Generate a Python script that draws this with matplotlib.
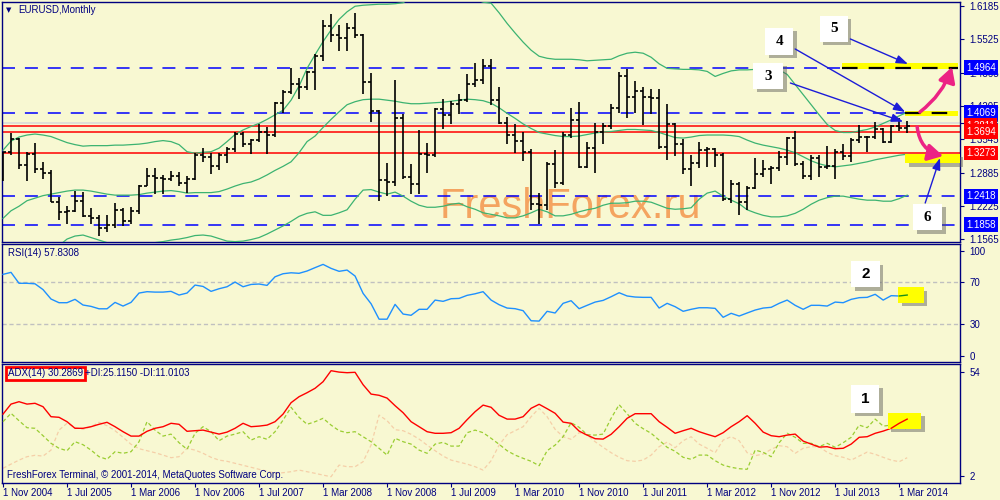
import matplotlib
matplotlib.use("Agg")
import matplotlib.pyplot as plt
import matplotlib.patheffects as pe
from matplotlib.patches import Rectangle
from matplotlib.transforms import blended_transform_factory

plt.rcParams['font.family'] = ['Liberation Sans', 'DejaVu Sans']

BG = '#f8f8d2'
NAVY = '#000080'

# EURUSD monthly bars, Nov 2004 .. Apr 2014
opens = [1.2760, 1.3290, 1.3554, 1.3036, 1.3254, 1.2964, 1.2874, 1.2307, 1.2098, 1.2125,
         1.2331, 1.2024, 1.1991, 1.1790, 1.1844, 1.2154, 1.1928, 1.2120, 1.2622, 1.2821,
         1.2789, 1.2768, 1.2811, 1.2677, 1.2759, 1.3238, 1.3197, 1.3017, 1.3232, 1.3354,
         1.3651, 1.3449, 1.3529, 1.3681, 1.3637, 1.4266, 1.4488, 1.4641, 1.4589, 1.4869,
         1.5185, 1.5785, 1.5604, 1.5553, 1.5752, 1.5614, 1.4672, 1.4099, 1.2733, 1.2699,
         1.3971, 1.2800, 1.2669, 1.3257, 1.3236, 1.4151, 1.4033, 1.4254, 1.4331, 1.4641,
         1.4714, 1.5001, 1.4320, 1.3869, 1.3630, 1.3510, 1.3297, 1.2273, 1.2235, 1.3049,
         1.2681, 1.3630, 1.3920, 1.2996, 1.3380, 1.3691, 1.3801, 1.4164, 1.4807, 1.4391,
         1.4496, 1.4390, 1.4370, 1.3389, 1.3853, 1.3446, 1.2961, 1.3082, 1.3326, 1.3344,
         1.3236, 1.2370, 1.2666, 1.2302, 1.2578, 1.2856, 1.2956, 1.2986, 1.3197, 1.3578,
         1.3058, 1.2819, 1.3167, 1.2997, 1.3010, 1.3300, 1.3222, 1.3527, 1.3585, 1.3593,
         1.3743, 1.3486, 1.3801, 1.3768]
highs = [1.3297, 1.3666, 1.3581, 1.3290, 1.3478, 1.3096, 1.2935, 1.2400, 1.2230, 1.2512,
         1.2509, 1.2180, 1.2043, 1.2038, 1.2286, 1.2182, 1.2196, 1.2639, 1.2979, 1.2975,
         1.2843, 1.2913, 1.2899, 1.2824, 1.3283, 1.3367, 1.3283, 1.3273, 1.3387, 1.3681,
         1.3683, 1.3550, 1.3852, 1.3798, 1.4283, 1.4527, 1.4967, 1.4759, 1.4907, 1.5234,
         1.5903, 1.6019, 1.5818, 1.5844, 1.6038, 1.5623, 1.4867, 1.4123, 1.3081, 1.4718,
         1.4053, 1.3048, 1.3738, 1.3471, 1.4164, 1.4337, 1.4305, 1.4445, 1.4843, 1.5062,
         1.5143, 1.5135, 1.4579, 1.3988, 1.3839, 1.3692, 1.3361, 1.2487, 1.3105, 1.3333,
         1.3687, 1.4157, 1.4282, 1.3497, 1.3860, 1.3861, 1.4249, 1.4882, 1.4940, 1.4700,
         1.4578, 1.4549, 1.4548, 1.4247, 1.3871, 1.3549, 1.3233, 1.3486, 1.3386, 1.3383,
         1.3283, 1.2747, 1.2693, 1.2624, 1.3172, 1.3140, 1.3010, 1.3308, 1.3597, 1.3711,
         1.3115, 1.3243, 1.3243, 1.3416, 1.3346, 1.3452, 1.3569, 1.3832, 1.3620, 1.3893,
         1.3775, 1.3824, 1.3967, 1.3905]
lows = [1.2711, 1.3225, 1.2955, 1.2727, 1.2872, 1.2769, 1.2303, 1.1953, 1.1868, 1.2100,
        1.2003, 1.1871, 1.1639, 1.1707, 1.1798, 1.1826, 1.1873, 1.2066, 1.2617, 1.2456,
        1.2457, 1.2713, 1.2625, 1.2484, 1.2735, 1.3104, 1.2866, 1.2931, 1.3069, 1.3303,
        1.3386, 1.3256, 1.3487, 1.3261, 1.3596, 1.4062, 1.4437, 1.4350, 1.4524, 1.4516,
        1.5093, 1.5474, 1.5284, 1.5301, 1.5558, 1.4433, 1.3880, 1.2329, 1.2421, 1.2624,
        1.2753, 1.2455, 1.2457, 1.2884, 1.3188, 1.3747, 1.3845, 1.4047, 1.4277, 1.4582,
        1.4646, 1.4218, 1.3858, 1.3444, 1.3265, 1.3114, 1.2143, 1.1875, 1.2151, 1.2588,
        1.2646, 1.3575, 1.2970, 1.2969, 1.2871, 1.3444, 1.3749, 1.4058, 1.3967, 1.4071,
        1.3838, 1.4054, 1.3363, 1.3145, 1.3211, 1.2858, 1.2624, 1.2974, 1.3003, 1.3001,
        1.2332, 1.2286, 1.2041, 1.2148, 1.2562, 1.2803, 1.2661, 1.2923, 1.3038, 1.3019,
        1.2750, 1.2746, 1.2795, 1.2951, 1.2755, 1.3131, 1.3104, 1.3480, 1.3296, 1.3546,
        1.3478, 1.3476, 1.3705, 1.3672]
closes = [1.3290, 1.3554, 1.3036, 1.3254, 1.2964, 1.2874, 1.2307, 1.2098, 1.2125, 1.2331,
          1.2024, 1.1991, 1.1790, 1.1844, 1.2154, 1.1928, 1.2120, 1.2622, 1.2821, 1.2789,
          1.2768, 1.2811, 1.2677, 1.2759, 1.3238, 1.3197, 1.3017, 1.3232, 1.3354, 1.3651,
          1.3449, 1.3529, 1.3681, 1.3637, 1.4266, 1.4488, 1.4641, 1.4589, 1.4869, 1.5185,
          1.5785, 1.5604, 1.5553, 1.5752, 1.5614, 1.4672, 1.4099, 1.2733, 1.2699, 1.3971,
          1.2800, 1.2669, 1.3257, 1.3236, 1.4151, 1.4033, 1.4254, 1.4331, 1.4641, 1.4714,
          1.5001, 1.4320, 1.3869, 1.3630, 1.3510, 1.3297, 1.2273, 1.2235, 1.3049, 1.2681,
          1.3630, 1.3920, 1.2996, 1.3380, 1.3691, 1.3801, 1.4164, 1.4807, 1.4391, 1.4496,
          1.4390, 1.4370, 1.3389, 1.3853, 1.3446, 1.2961, 1.3082, 1.3326, 1.3344, 1.3236,
          1.2370, 1.2666, 1.2302, 1.2578, 1.2856, 1.2956, 1.2986, 1.3197, 1.3578, 1.3058,
          1.2819, 1.3167, 1.2997, 1.3010, 1.3300, 1.3222, 1.3527, 1.3585, 1.3593, 1.3743,
          1.3486, 1.3801, 1.3768, 1.3811]

# Bollinger bands
bb_upper = [1.333, 1.351, 1.359, 1.363, 1.365, 1.363, 1.360, 1.354, 1.348, 1.344,
            1.341, 1.342, 1.342, 1.342, 1.343, 1.343, 1.344, 1.345, 1.347, 1.350,
            1.352, 1.350, 1.344, 1.330, 1.327, 1.329, 1.330, 1.337, 1.350, 1.364,
            1.373, 1.380, 1.386, 1.394, 1.403, 1.412, 1.432, 1.460, 1.495, 1.522,
            1.548, 1.571, 1.592, 1.607, 1.618, 1.620, 1.621, 1.622, 1.622, 1.623,
            1.625, 1.635, 1.645, 1.650, 1.655, 1.655, 1.650, 1.645, 1.640, 1.632,
            1.626, 1.624, 1.605, 1.584, 1.565, 1.547, 1.531, 1.519, 1.515, 1.513,
            1.513, 1.513, 1.512, 1.510, 1.511, 1.512, 1.513, 1.520, 1.525, 1.527,
            1.525, 1.517, 1.504, 1.495, 1.494, 1.493, 1.493, 1.492, 1.489, 1.479,
            1.485, 1.490, 1.492, 1.492, 1.493, 1.493, 1.493, 1.492, 1.483, 1.463,
            1.443, 1.423, 1.403, 1.384, 1.372, 1.368, 1.368, 1.371, 1.374, 1.379,
            1.386, 1.393, 1.401, 1.408]
bb_middle = [1.198, 1.213, 1.222, 1.233, 1.238, 1.243, 1.246, 1.249, 1.252, 1.254,
             1.254, 1.252, 1.249, 1.246, 1.244, 1.244, 1.244, 1.245, 1.248, 1.250,
             1.252, 1.253, 1.251, 1.248, 1.249, 1.249, 1.249, 1.251, 1.256, 1.262,
             1.267, 1.270, 1.276, 1.284, 1.293, 1.301, 1.310, 1.328, 1.350, 1.361,
             1.378, 1.394, 1.409, 1.423, 1.429, 1.433, 1.434, 1.434, 1.432, 1.430,
             1.427, 1.425, 1.425, 1.426, 1.427, 1.428, 1.430, 1.432, 1.434, 1.433,
             1.431, 1.426, 1.417, 1.406, 1.396, 1.385, 1.376, 1.368, 1.365, 1.362,
             1.360, 1.360, 1.361, 1.364, 1.367, 1.369, 1.370, 1.372, 1.374, 1.374,
             1.373, 1.372, 1.368, 1.363, 1.358, 1.357, 1.359, 1.362, 1.363, 1.363,
             1.363, 1.362, 1.360, 1.353, 1.347, 1.343, 1.340, 1.337, 1.333, 1.328,
             1.320, 1.312, 1.306, 1.302, 1.300, 1.302, 1.304, 1.307, 1.310, 1.314,
             1.317, 1.320, 1.323, 1.325]
bb_lower = [1.063, 1.075, 1.085, 1.103, 1.111, 1.123, 1.132, 1.144, 1.157, 1.163,
            1.165, 1.160, 1.155, 1.150, 1.146, 1.145, 1.144, 1.145, 1.149, 1.150,
            1.152, 1.155, 1.157, 1.160, 1.164, 1.165, 1.163, 1.158, 1.153, 1.152,
            1.153, 1.156, 1.160, 1.167, 1.175, 1.183, 1.192, 1.202, 1.208, 1.211,
            1.204, 1.204, 1.209, 1.215, 1.236, 1.254, 1.255, 1.250, 1.246, 1.250,
            1.242, 1.232, 1.224, 1.220, 1.220, 1.222, 1.226, 1.228, 1.221, 1.216,
            1.209, 1.206, 1.203, 1.199, 1.199, 1.203, 1.209, 1.216, 1.211, 1.203,
            1.203, 1.206, 1.211, 1.215, 1.218, 1.224, 1.228, 1.228, 1.229, 1.232,
            1.232, 1.230, 1.224, 1.218, 1.216, 1.217, 1.219, 1.236, 1.248, 1.252,
            1.242, 1.234, 1.227, 1.215, 1.209, 1.204, 1.201, 1.201, 1.203, 1.208,
            1.216, 1.226, 1.234, 1.239, 1.242, 1.242, 1.239, 1.236, 1.234, 1.234,
            1.232, 1.232, 1.237, 1.244]

rsi = [77.5, 79.4, 69, 69, 68.5, 63, 54, 50.5, 50.5, 53.7,
       48.3, 47, 44.7, 44.7, 50.8, 47.3, 50.8, 59.7, 61, 60.6,
       60.6, 61.3, 57.8, 59.7, 67.3, 66, 61.3, 63.8, 65.7, 70.2,
       65.7, 67.9, 68.3, 67, 75.2, 78.1, 79, 78.5, 80.7, 83.9,
       87, 83.2, 80.4, 81.6, 75.9, 59.4, 49.5, 34.8, 34.8, 48.9,
       39.7, 38.5, 44.2, 44.2, 53, 51.8, 54.3, 54.6, 57.5, 59,
       61, 53, 48.6, 45.4, 44.8, 42.9, 33.3, 33, 42.3, 40.7,
       49.9, 52.4, 44.8, 48, 51.1, 52.7, 56.2, 60, 56.9, 55.9,
       55.6, 55.6, 45.4, 49.9, 46.7, 42.3, 44.2, 45.7, 45.7, 45.1,
       36.6, 40.4, 37.8, 40.7, 43.5, 45.4, 46.1, 49.9, 53, 48,
       44.2, 48, 48, 47.3, 51.1, 50.5, 53.7, 55.3, 55.6, 58.5,
       53, 57.2, 56.9, 57.8]

adx = [32.8, 37.8, 39, 37.8, 38.2, 36.5, 31.5, 31.2, 29, 25.7,
       25.7, 26.5, 27.7, 28.7, 26.5, 24, 21.8, 21.8, 24.2, 25.7,
       26.5, 28.2, 27.7, 24.2, 24.5, 24.8, 23.8, 22.8, 23.8, 25.7,
       28.2, 26.5, 26.8, 27.3, 29, 32.8, 38.5, 41.5, 43.5, 45.7,
       49, 54.5, 53.8, 53.5, 53.7, 47.5, 42.8, 42.2, 40.8, 37,
       33.5, 29, 26.5, 24, 23.2, 23.2, 23.5, 25.7, 30, 34,
       37.3, 36.2, 32.2, 30.3, 30.3, 31.5, 35.7, 37.7, 35.5, 33.2,
       28.8, 28.2, 24.3, 22.3, 20.5, 20.3, 22.7, 26.5, 30.7, 33,
       33, 33, 29, 26.2, 23.2, 24.5, 25.7, 24, 22.7, 21.5,
       23.5, 26.5, 29, 32, 28.2, 23.8, 22, 21.5, 22.3, 22.8,
       19.3, 17.8, 16.3, 16.5, 15.5, 15.7, 17.8, 21.2, 21.5, 23.2,
       24.3, 25.7, 28.2, 30.3]
plus_di = [29, 33.2, 29.5, 26, 25.7, 22, 18.2, 15.7, 14.5, 19,
           17.5, 14.8, 11.5, 10.2, 14, 13.2, 14, 19, 29, 24.8,
           21.8, 22.8, 18.5, 15.2, 23.2, 26.5, 24, 19.5, 21.8, 22.8,
           24, 19.8, 21.5, 20.2, 24, 29.8, 36.2, 31.2, 27.7, 29,
           30.7, 27.3, 24.5, 23.5, 24, 21.5, 19, 15.7, 12.3, 20.7,
           19, 17.8, 14.8, 13.2, 17.8, 18.7, 16.8, 16.8, 23.5, 24.8,
           23.5, 20.7, 17.7, 14.5, 12.3, 10.7, 9.2, 7, 14.5, 17.3,
           21.5, 28.5, 26.2, 22.5, 22.3, 22.8, 30.7, 37.5, 33, 28.2,
           25.5, 23.2, 19.8, 16.2, 14.2, 11.2, 10.2, 12.3, 12.3, 9.5,
           7.3, 6.2, 5.5, 5.2, 14.8, 13.7, 11.5, 18.5, 23.2, 21.2,
           18.2, 18.2, 16.5, 18.2, 16.2, 18.5, 21.2, 27.3, 26, 30.3,
           26.8, 27.3, 27.2, 25.1]
minus_di = [5.7, 7.8, 9.8, 11.5, 12.2, 11.8, 14.8, 24.8, 28.2, 26.2,
            25.2, 26.5, 28.7, 27, 24.5, 21.2, 17.7, 15.5, 14.5, 13.5,
            12.3, 11, 11.5, 15.7, 14.8, 13.2, 11.2, 9.8, 9.2, 8.2,
            7.2, 6.2, 5.2, 4.3, 3.2, 3.5, 4, 4.8, 4, 3.2,
            2.3, 1.5, 7.3, 6.5, 6.5, 9, 17.3, 32.3, 29.5, 25,
            24.5, 22.7, 20.3, 17.3, 14.5, 11.8, 9.8, 8.8, 7.8, 6.5,
            4.8, 9.5, 17.3, 22.5, 24.5, 26.5, 31.5, 35.7, 31.5, 25.2,
            21.5, 20.2, 23.5, 22.3, 19, 16.2, 13.5, 11.2, 9.5, 9.2,
            9.8, 12.3, 16.5, 18.8, 16, 19.5, 21.5, 17.8, 15.7, 13.5,
            19.8, 21.5, 19.5, 13.5, 12, 12.8, 15.2, 17, 16.5, 13.2,
            15.7, 16.5, 16.5, 13.7, 12, 11.2, 9.8, 11.8, 13.8, 12.7,
            11.2, 9.8, 9, 11]

date_labels = ['1 Nov 2004', '1 Jul 2005', '1 Mar 2006', '1 Nov 2006', '1 Jul 2007',
               '1 Mar 2008', '1 Nov 2008', '1 Jul 2009', '1 Mar 2010', '1 Nov 2010',
               '1 Jul 2011', '1 Mar 2012', '1 Nov 2012', '1 Jul 2013', '1 Mar 2014']
price_ticks = [1.6185, 1.5525, 1.4865, 1.4205, 1.3545, 1.2885, 1.2225, 1.1565]
blue_levels = [1.4964, 1.4069, 1.2418, 1.1858]
red_levels = [1.3811, 1.3694, 1.3273]
bid_level = 1.3876

x = list(range(len(closes)))
date_pos = list(range(0, len(closes), 8))

fig = plt.figure(figsize=(10, 5), dpi=100)
fig.patch.set_facecolor(BG)
ax = fig.add_axes([0.002, 0.517, 0.958, 0.479])
ax_rsi = fig.add_axes([0.002, 0.2766, 0.958, 0.2364])
ax_adx = fig.add_axes([0.002, 0.035, 0.958, 0.237])

for a in (ax, ax_rsi, ax_adx):
    a.set_facecolor(BG)
    a.set_xlim(-0.125, 119.6)
    for s in a.spines.values():
        s.set_color(NAVY)
        s.set_linewidth(1)
    a.yaxis.tick_right()
    a.tick_params(axis='y', direction='out', length=3, color=NAVY, labelcolor=NAVY,
                  labelsize=7, pad=4)
ax.set_xticks([])
ax_rsi.set_xticks([])

# ---- price panel ----
ax.set_ylim(1.1522, 1.6264)
ax.set_yticks(price_ticks + [bid_level])
ax.set_yticklabels([f'{v:.4f}' for v in price_ticks] + ['1.3883'])

ax.text(70.9, 1.2205, 'FreshForex.ru', color='#f4a460', fontsize=30, ha='center',
        va='center', zorder=1)

for lv in blue_levels:
    ax.axhline(lv, color='#0000ff', lw=1.1, ls=(0, (8.5, 6.5)), zorder=2)
for lv in red_levels:
    ax.axhline(lv, color='#ff0000', lw=1.1, zorder=2)
ax.axhline(bid_level, color='#d8d8d8', lw=1.1, zorder=2)

ax.plot(x, bb_upper, color='#3cb371', lw=0.9, zorder=3)
ax.plot(x, bb_middle, color='#3cb371', lw=0.9, zorder=3)
ax.plot(x, bb_lower, color='#3cb371', lw=0.9, zorder=3)

ax.vlines(x, lows, highs, color='black', lw=1.2, zorder=4)
ax.hlines(opens, [i - 0.4 for i in x], x, color='black', lw=1.2, zorder=4)
ax.hlines(closes, x, [i + 0.4 for i in x], color='black', lw=1.2, zorder=4)

ax.text(0.004, 0.967, '▼', transform=ax.transAxes, color=NAVY, fontsize=5,
        va='center', family='DejaVu Sans')
ax.text(0.017, 0.967, 'EURUSD,Monthly', transform=ax.transAxes, color=NAVY,
        fontsize=7, va='center')

shadow = [pe.SimplePatchShadow(offset=(2.5, -2.5), shadow_rgbFace='#555555', alpha=0.45),
          pe.Normal()]


def box(a, x0, x1, y0, y1, fc, z=6, shade=True):
    r = Rectangle((x0, y0), x1 - x0, y1 - y0, facecolor=fc, edgecolor='none',
                  zorder=z, clip_on=False)
    if shade:
        r.set_path_effects(shadow)
    a.add_patch(r)


def num_box(a, x0, x1, y0, y1, label, serif=True):
    box(a, x0, x1, y0, y1, 'white', z=7)
    a.text((x0 + x1) / 2, (y0 + y1) / 2, label, ha='center', va='center',
           fontsize=11, fontweight='bold', zorder=8,
           family='Liberation Serif' if serif else 'Liberation Sans')


# yellow highlights on the levels
box(ax, 104.9, 119.4, 1.4932, 1.5062, '#ffff00', z=5, shade=False)
box(ax, 112.75, 119.4, 1.4007, 1.4112, '#ffff00', z=5, shade=False)
box(ax, 112.75, 119.6, 1.3070, 1.3254, '#ffff00', z=5)
ax.hlines(1.4964, 104.9, 119.4, color='black', lw=1.6, ls=(0, (7, 5)), zorder=6)
ax.hlines(1.4069, 112.75, 119.4, color='black', lw=1.6, ls=(0, (7, 5)), zorder=6)

num_box(ax, 102.1, 105.6, 1.5472, 1.5987, '5')
num_box(ax, 95.25, 98.75, 1.5215, 1.5749, '4')
num_box(ax, 93.75, 97.5, 1.4541, 1.5056, '3')
num_box(ax, 113.75, 117.4, 1.1749, 1.2264, '6')

blue_arrow = dict(arrowstyle='-|>,head_length=0.7,head_width=0.25', color='#1c1cd8',
                  lw=1, shrinkA=0, shrinkB=0)
ax.annotate('', xy=(113.1, 1.5037), xytext=(105.9, 1.5532), arrowprops=blue_arrow, zorder=9)
ax.annotate('', xy=(112.75, 1.4086), xytext=(99.0, 1.5334), arrowprops=blue_arrow, zorder=9)
ax.annotate('', xy=(112.5, 1.3894), xytext=(98.4, 1.4660), arrowprops=blue_arrow, zorder=9)
ax.annotate('', xy=(117.1, 1.3175), xytext=(115.25, 1.2284), arrowprops=blue_arrow, zorder=9)

pink = '#ec2384'
ax.annotate('', xy=(118.6, 1.4977), xytext=(114.6, 1.4086),
            arrowprops=dict(arrowstyle='-|>,head_length=0.9,head_width=0.5', color=pink,
                            lw=2.5, connectionstyle='arc3,rad=0.15', shrinkA=0, shrinkB=0),
            zorder=9, annotation_clip=False)
ax.annotate('', xy=(117.5, 1.3215), xytext=(114.25, 1.3789),
            arrowprops=dict(arrowstyle='-|>,head_length=0.9,head_width=0.5', color=pink,
                            lw=2.5, connectionstyle='arc3,rad=0.35', shrinkA=0, shrinkB=0),
            zorder=9, annotation_clip=False)

# price labels on the right axis
tr = blended_transform_factory(ax.transAxes, ax.transData)
for lv in blue_levels + red_levels:
    fc = '#0000ff' if lv in blue_levels else '#ff0000'
    ax.text(1.0065, lv, f'{lv:.4f}', transform=tr, color='white', fontsize=7,
            va='center', ha='left', clip_on=False, zorder=10,
            bbox=dict(boxstyle='square,pad=0.25', fc=fc, ec='none'))

# ---- RSI panel ----
ax_rsi.set_ylim(-5.7, 106.9)
ax_rsi.set_yticks([100, 70, 30, 0])
ax_rsi.axhline(70, color='#c0c0c0', lw=1, ls=(0, (3, 2)))
ax_rsi.axhline(30, color='#c0c0c0', lw=1, ls=(0, (3, 2)))
ax_rsi.plot(x, rsi, color='#1e90ff', lw=1, zorder=3)
box(ax_rsi, 111.9, 115.1, 50.2, 65.4, '#ffff00', z=5)
ax_rsi.plot(x[-2:], rsi[-2:], color='#1a8f1a', lw=1, zorder=6)
num_box(ax_rsi, 106.0, 109.6, 65.4, 90.2, '2', serif=False)
ax_rsi.text(0.0063, 0.92, 'RSI(14) 57.8308', transform=ax_rsi.transAxes, color=NAVY,
            fontsize=7, va='center')

# ---- ADX panel ----
ax_adx.set_ylim(-1.4, 57.85)
ax_adx.set_yticks([54, 2])
ax_adx.plot(x, minus_di, color='#f5cfa8', lw=0.9, ls=(0, (3, 2)), zorder=2)
ax_adx.plot(x, plus_di, color='#9acd32', lw=0.9, ls=(0, (3, 2)), zorder=3)
ax_adx.plot(x, adx, color='#ff0000', lw=1, zorder=4)
box(ax_adx, 110.6, 114.75, 25.35, 33.35, '#ffff00', z=5)
ax_adx.plot(x[-3:], adx[-3:], color='#ff0000', lw=1, zorder=6)
num_box(ax_adx, 106.0, 109.5, 33.35, 47.35, '1', serif=False)
ax_adx.text(0.0063, 0.92, 'ADX(14) 30.2869', transform=ax_adx.transAxes, color=NAVY,
            fontsize=7, va='center',
            bbox=dict(boxstyle='square,pad=0.2', fc='none', ec='#ff0000', lw=2))
ax_adx.text(0.087, 0.92, '+DI:25.1150 -DI:11.0103', transform=ax_adx.transAxes,
            color=NAVY, fontsize=7, va='center')
ax_adx.text(0.005, 0.065, 'FreshForex Terminal, © 2001-2014, MetaQuotes Software Corp.',
            transform=ax_adx.transAxes, color=NAVY, fontsize=7, va='center')

ax_adx.set_xticks(date_pos)
ax_adx.set_xticklabels(date_labels, ha='left')
ax_adx.tick_params(axis='x', direction='out', length=3, color=NAVY, labelcolor=NAVY,
                   labelsize=7, pad=1)

fig.savefig('out.png', dpi=100, facecolor=BG)
